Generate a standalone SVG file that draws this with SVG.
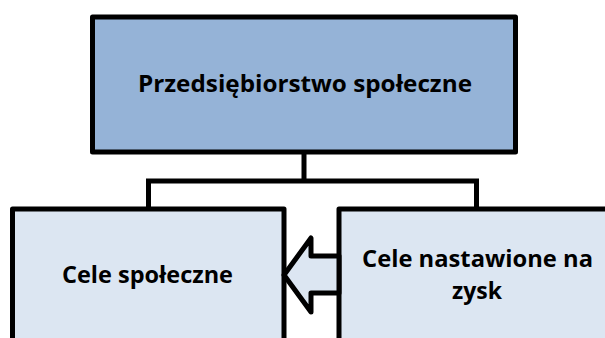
<svg xmlns="http://www.w3.org/2000/svg" width="605" height="338" viewBox="0 0 605 338">
  <style>
    .box { stroke: #000; stroke-width: 5; stroke-linejoin: round; }
    .top { fill: #95b3d7; }
    .sub { fill: #dce6f2; }
    .wire { fill: none; stroke: #000; stroke-width: 5; stroke-linejoin: miter; }
    .lbl { font-family: "Open Sans", "Liberation Sans", sans-serif; font-weight: bold; font-size: 23px; fill: #000; text-anchor: middle; }
  </style>
  <rect width="605" height="338" fill="#fff"/>

  <!-- tree connectors -->
  <g id="connectors">
    <path class="wire" d="M304,152 V181 M148.5,209 V181 H476.5 V209"/>
  </g>

  <g id="node-root">
    <rect class="box top" x="92.5" y="17" width="423" height="135"/>
    <text class="lbl" x="305" y="92" textLength="334" lengthAdjust="spacingAndGlyphs">Przedsiębiorstwo społeczne</text>
  </g>

  <g id="node-social">
    <rect class="box sub" x="12.5" y="209" width="271.5" height="140"/>
    <text class="lbl" x="147.5" y="283" textLength="171" lengthAdjust="spacingAndGlyphs">Cele społeczne</text>
  </g>

  <g id="node-profit">
    <rect class="box sub" x="339" y="209" width="280" height="140"/>
    <text class="lbl" x="477.5" y="267" textLength="231" lengthAdjust="spacingAndGlyphs">Cele nastawione na</text>
    <text class="lbl" x="477" y="299" textLength="50" lengthAdjust="spacingAndGlyphs">zysk</text>
  </g>

  <!-- block arrow between the lower boxes -->
  <g id="arrow">
    <polygon class="box sub" points="284,275 311,238 311,256 339,256 339,293 311,293 311,312"/>
  </g>
</svg>
